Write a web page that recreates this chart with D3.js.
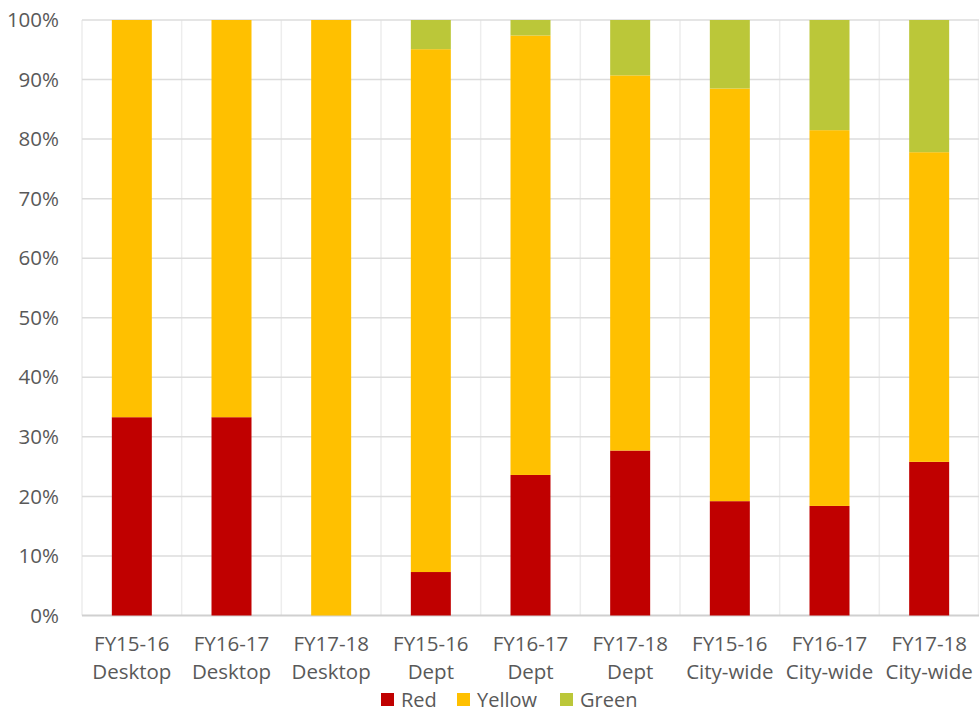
<!DOCTYPE html>
<html>
<head>
<meta charset="utf-8">
<script src="https://cdn.jsdelivr.net/npm/d3@7"></script>
<style>
  body { margin: 0; background: #fff; }
  text { font-family: "Open Sans", "Noto Sans", sans-serif; fill: #595959; }
</style>
</head>
<body>
<svg width="979" height="713"></svg>
<script>
const svg = d3.select('svg');

// DATA
const categories = [
  ['FY15-16', 'Desktop'], ['FY16-17', 'Desktop'], ['FY17-18', 'Desktop'],
  ['FY15-16', 'Dept'], ['FY16-17', 'Dept'], ['FY17-18', 'Dept'],
  ['FY15-16', 'City-wide'], ['FY16-17', 'City-wide'], ['FY17-18', 'City-wide']
];
const red = [33.3, 33.3, 0, 7.3, 23.6, 27.7, 19.2, 18.4, 25.8];
const yellow = [66.7, 66.7, 100, 87.8, 73.8, 63.0, 69.3, 63.1, 52.0];
const green = [0, 0, 0, 4.9, 2.6, 9.3, 11.5, 18.5, 22.2];
const seriesNames = ['Red', 'Yellow', 'Green'];
const yTicks = [0, 10, 20, 30, 40, 50, 60, 70, 80, 90, 100];

const colors = { Red: '#c00000', Yellow: '#ffc000', Green: '#bbc739' };
const fontSize = '20.5px';

// LAYOUT
const plotLeft = 82, plotRight = 979, plotTop = 20, plotBottom = 615.5;

const x = d3.scaleBand()
  .domain(d3.range(categories.length))
  .range([plotLeft, plotRight])
  .paddingInner(0)
  .paddingOuter(0);

const y = d3.scaleLinear()
  .domain([0, 100])
  .range([plotBottom, plotTop]);

const table = categories.map((c, i) => ({ i, Red: red[i], Yellow: yellow[i], Green: green[i] }));
const stacked = d3.stack().keys(seriesNames)(table);

// vertical grid lines between categories
svg.append('g')
  .selectAll('line')
  .data(d3.range(categories.length + 1))
  .join('line')
    .attr('x1', i => i < categories.length ? x(i) : plotRight - 0.5)
    .attr('x2', i => i < categories.length ? x(i) : plotRight - 0.5)
    .attr('y1', plotTop)
    .attr('y2', plotBottom)
    .attr('stroke', '#ededed')
    .attr('stroke-width', 1.5);

// horizontal grid lines
svg.append('g')
  .selectAll('line')
  .data(yTicks)
  .join('line')
    .attr('x1', plotLeft)
    .attr('x2', plotRight)
    .attr('y1', d => y(d))
    .attr('y2', d => y(d))
    .attr('stroke', d => d === 0 ? '#d0d0d0' : '#dcdcdc')
    .attr('stroke-width', d => d === 0 ? 2 : 1.5);

// y tick labels
svg.append('g')
  .selectAll('text')
  .data(yTicks)
  .join('text')
    .attr('x', 59)
    .attr('y', d => y(d))
    .attr('dy', '0.35em')
    .attr('text-anchor', 'end')
    .style('font-size', fontSize)
    .text(d => d + '%');

// bars
const barW = 40;
svg.append('g')
  .selectAll('g')
  .data(stacked)
  .join('g')
    .attr('fill', s => colors[s.key])
  .selectAll('rect')
  .data(s => s)
  .join('rect')
    .attr('x', d => x(d.data.i) + x.bandwidth() / 2 - barW / 2)
    .attr('width', barW)
    .attr('y', d => y(d[1]))
    .attr('height', d => y(d[0]) - y(d[1]));

// category labels
const cat = svg.append('g')
  .selectAll('text')
  .data(categories)
  .join('text')
    .attr('text-anchor', 'middle')
    .style('font-size', fontSize);
cat.append('tspan')
  .attr('x', (d, i) => x(i) + x.bandwidth() / 2)
  .attr('y', 651)
  .text(d => d[0]);
cat.append('tspan')
  .attr('x', (d, i) => x(i) + x.bandwidth() / 2)
  .attr('y', 679)
  .text(d => d[1]);

// legend
const legendX = [381, 457, 560];
const legend = svg.append('g')
  .selectAll('g')
  .data(seriesNames)
  .join('g')
    .attr('transform', (d, i) => `translate(${legendX[i]}, 693)`);
legend.append('rect')
  .attr('width', 13)
  .attr('height', 13)
  .attr('fill', d => colors[d]);
legend.append('text')
  .attr('x', 20)
  .attr('y', 13.5)
  .style('font-size', '20px')
  .text(d => d);
</script>
</body>
</html>
